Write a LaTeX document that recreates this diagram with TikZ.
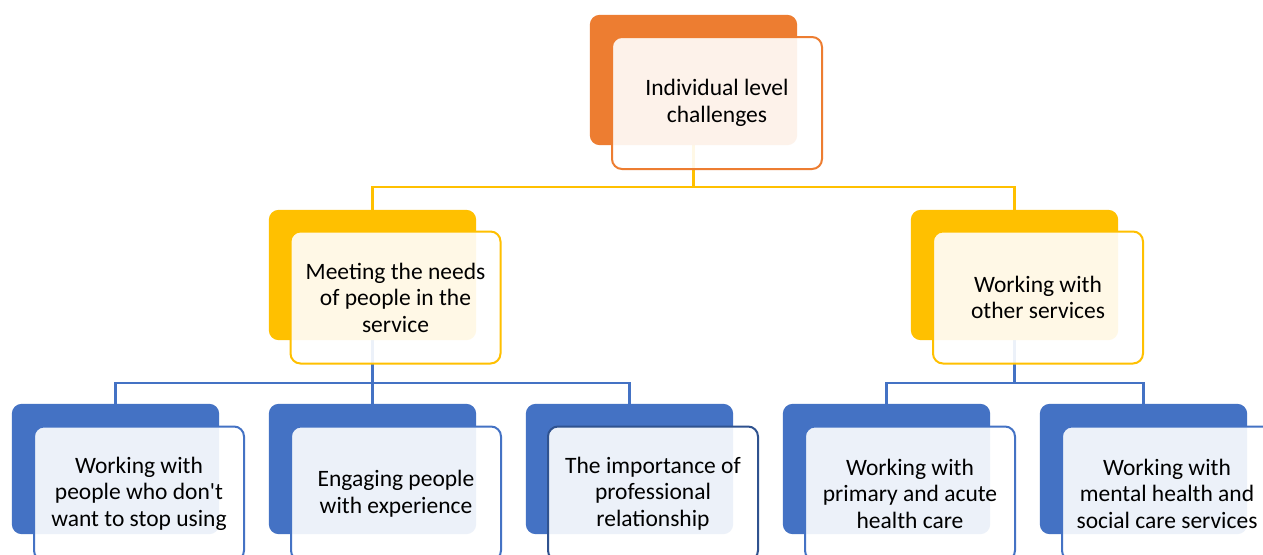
\documentclass[tikz,border=0pt]{standalone}
\usepackage{fontspec}
\setmainfont{Carlito}[Ligatures=TeXOff]
\definecolor{cOr}{HTML}{ED7D31}
\definecolor{cYe}{HTML}{FFC000}
\definecolor{cBl}{HTML}{4472C4}
\definecolor{cBd}{HTML}{2F528F}
\tikzset{
  backbox/.style={rectangle, rounded corners=10pt, minimum width=207pt, minimum height=130pt, inner sep=0pt},
  frontbox/.style={rectangle, rounded corners=10pt, line width=2pt, fill=white, fill opacity=0.9, text opacity=1,
    minimum width=210pt, minimum height=132pt, inner sep=0pt, align=center, text=black,
    font=\fontsize{23.5}{26.5}\selectfont},
  yline/.style={draw=cYe, line width=2.5pt},
  bline/.style={draw=cBl, line width=2.5pt},
}
\begin{document}
\begin{tikzpicture}[x=1pt,y=-1pt]
\useasboundingbox (0,0) rectangle (1263,554);
\clip (0,0) rectangle (1263,554);
\fill[white] (0,0) rectangle (1263,554);
% back boxes (named, used as connector anchors)
\node[backbox] (topb) at (693.5,80) {};
\node[backbox] (m1b) at (372.5,275) {};
\node[backbox] (m2b) at (1014.5,275) {};
\node[backbox] (c1b) at (115.5,469) {};
\node[backbox] (c2b) at (372.5,469) {};
\node[backbox] (c3b) at (629.5,469) {};
\node[backbox] (c4b) at (886.5,469) {};
\node[backbox] (c5b) at (1143.5,469) {};
% bus coordinates
\coordinate (bus1) at (0,187);
\coordinate (bus2) at (0,383);
% connectors (under boxes)
\draw[yline] (topb.center) -- (topb.center |- bus1) -| (m1b.center);
\draw[yline] (topb.center) -- (topb.center |- bus1) -| (m2b.center);
\draw[bline] (m1b.center) -- (m1b.center |- bus2) -| (c1b.center);
\draw[bline] (m1b.center) -- (m1b.center |- bus2) -| (c2b.center);
\draw[bline] (m1b.center) -- (m1b.center |- bus2) -| (c3b.center);
\draw[bline] (m2b.center) -- (m2b.center |- bus2) -| (c4b.center);
\draw[bline] (m2b.center) -- (m2b.center |- bus2) -| (c5b.center);
% fill back boxes over connectors
\foreach \n/\c in {topb/cOr, m1b/cYe, m2b/cYe, c1b/cBl, c2b/cBl, c3b/cBl, c4b/cBl, c5b/cBl}{
  \fill[\c, rounded corners=10pt] (\n.north west) rectangle (\n.south east);
}
% front boxes
\node[frontbox, draw=cOr] (top) at (717,103) {Individual level\\challenges};
\node[frontbox, draw=cYe] (m1) at (395.5,297.5) {Meeting the needs\\of people in the\\service};
\node[frontbox, draw=cYe] (m2) at (1038,297.5) {Working with\\other services};
\node[frontbox, draw=cBl, minimum height=134pt] (c1) at (139,493.5) {Working with\\people who don't\\want to stop using};
\node[frontbox, draw=cBl, minimum height=134pt] (c2) at (396,493.5) {Engaging people\\with experience};
\node[frontbox, draw=cBd, minimum height=134pt] (c3) at (653,493.5) {The importance of\\professional\\relationship};
\node[frontbox, draw=cBl, minimum height=134pt] (c4) at (910,493.5) {Working with\\primary and acute\\health care};
\node[frontbox, draw=cBl, minimum height=134pt] (c5) at (1167,493.5) {Working with\\mental health and\\social care services};
\end{tikzpicture}
\end{document}
